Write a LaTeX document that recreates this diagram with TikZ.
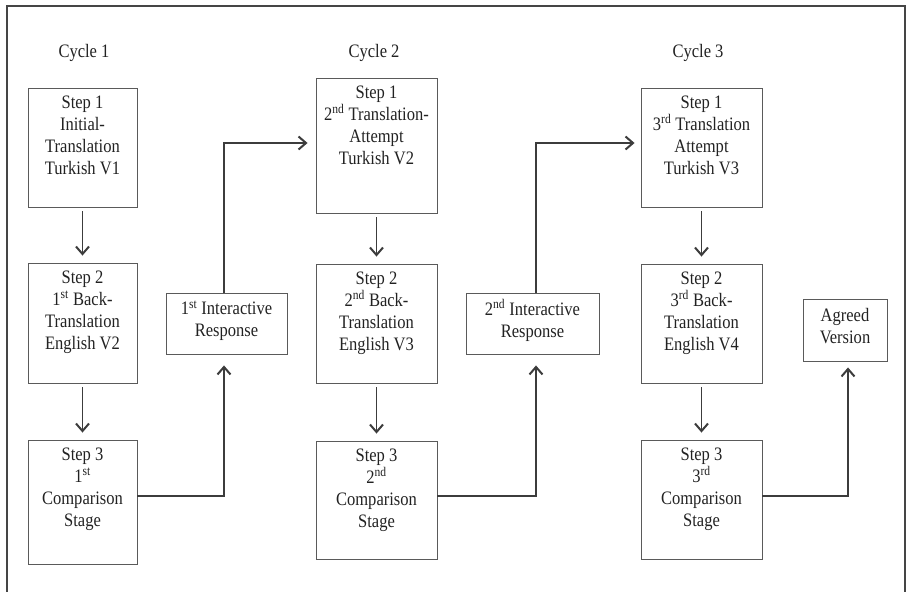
\documentclass[tikz,border=0pt]{standalone}
\usepackage{fontspec}
\setmainfont{Liberation Serif}[FakeStretch=0.87]
\usepackage{xcolor}
\usepackage{tikz}
\usetikzlibrary{arrows.meta,positioning}

\definecolor{framegray}{HTML}{454545}
\definecolor{boxgray}{HTML}{5A5A5A}
\definecolor{linegray}{HTML}{3C3C3C}
\definecolor{textgray}{HTML}{222222}

% box text starts at the top of the box
\newcommand{\boxlines}[3]{\parbox[c][#2][t]{#1}{\centering\vspace*{7.5pt}#3}}

\begin{document}
\begin{tikzpicture}[x=1pt,y=-1pt]

\tikzset{stepbox/.style={draw=boxgray, line width=0.9pt, inner sep=0pt, text=textgray,
  font=\fontsize{19}{22}\selectfont},
respbox/.style={draw=boxgray, line width=0.9pt, inner sep=0pt, text=textgray, align=center,
  font=\fontsize{19}{22}\selectfont},
arr/.style={draw=linegray, line width=1.1pt,
  -{Straight Barb[length=7.5pt,width=13pt,line width=2pt]}}}

\useasboundingbox (0,0) rectangle (906,592);

%the frame, open at the bottom
\draw[framegray, line width=1.4pt] (7,592) -- (7,6) -- (905,6) -- (905,592);

\foreach \x/\n in {84/1, 374/2, 698/3}
  \node[text=textgray, font=\fontsize{19}{22}\selectfont] (cycle\n) at (\x,53) {Cycle \n};

%cycle 1
\node[stepbox] (c1s1) at (82.5,147.5) {\boxlines{109pt}{119pt}{Step 1\\Initial-\\Translation\\Turkish V1}};
\node[stepbox] (c1s2) at (82.5,323) {\boxlines{109pt}{120pt}{Step 2\\1\textsuperscript{st} Back-\\Translation\\English V2}};
\node[stepbox] (c1s3) at (82.5,502) {\boxlines{109pt}{124pt}{Step 3\\1\textsuperscript{st}\\Comparison\\Stage}};

%cycle 2
\node[stepbox] (c2s1) at (376.5,145.5) {\boxlines{121pt}{135pt}{Step 1\\2\textsuperscript{nd} Translation-\\Attempt\\Turkish V2}};
\node[stepbox] (c2s2) at (376.5,323.5) {\boxlines{121pt}{119pt}{Step 2\\2\textsuperscript{nd} Back-\\Translation\\English V3}};
\node[stepbox] (c2s3) at (376.5,500) {\boxlines{121pt}{118pt}{Step 3\\2\textsuperscript{nd}\\Comparison\\Stage}};

%cycle 3
\node[stepbox] (c3s1) at (701.5,147.5) {\boxlines{121pt}{119pt}{Step 1\\3\textsuperscript{rd} Translation\\Attempt\\Turkish V3}};
\node[stepbox] (c3s2) at (701.5,323.5) {\boxlines{121pt}{119pt}{Step 2\\3\textsuperscript{rd} Back-\\Translation\\English V4}};
\node[stepbox] (c3s3) at (701.5,499.5) {\boxlines{121pt}{119pt}{Step 3\\3\textsuperscript{rd}\\Comparison\\Stage}};

%responses
\node[respbox, minimum width=121pt, minimum height=61pt] (int1) at (226.5,323.5) {1\textsuperscript{st} Interactive\\Response\\[-12pt]};
\node[respbox, minimum width=133pt, minimum height=61pt] (int2) at (532.5,323.5) {2\textsuperscript{nd} Interactive\\Response\\[-12pt]};
\node[respbox, minimum width=84pt, minimum height=62pt] (agreed) at (845,330) {Agreed\\Version\\[-13pt]};

\foreach \a/\b in {c1s1/c1s2, c1s2/c1s3, c2s1/c2s2, c2s2/c2s3, c3s1/c3s2, c3s2/c3s3}
  \draw[arr, shorten <=4pt, shorten >=7pt] (\a.south) -- (\b.north);

\draw[arr, shorten >=11pt] ([yshift=6pt]c1s3.east) -| ([xshift=-2.5pt]int1.south);
\draw[arr, shorten >=8pt] ([xshift=-2.5pt]int1.north) |- ([yshift=2.5pt]c2s1.west);
\draw[arr, shorten >=11pt] ([yshift=4pt]c2s3.east) -| ([xshift=3.5pt]int2.south);
\draw[arr, shorten >=6pt] ([xshift=3.5pt]int2.north) |- ([yshift=4.5pt]c3s1.west);
\draw[arr, shorten >=6pt] ([yshift=3.5pt]c3s3.east) -| ([xshift=3pt]agreed.south);

\end{tikzpicture}
\end{document}
